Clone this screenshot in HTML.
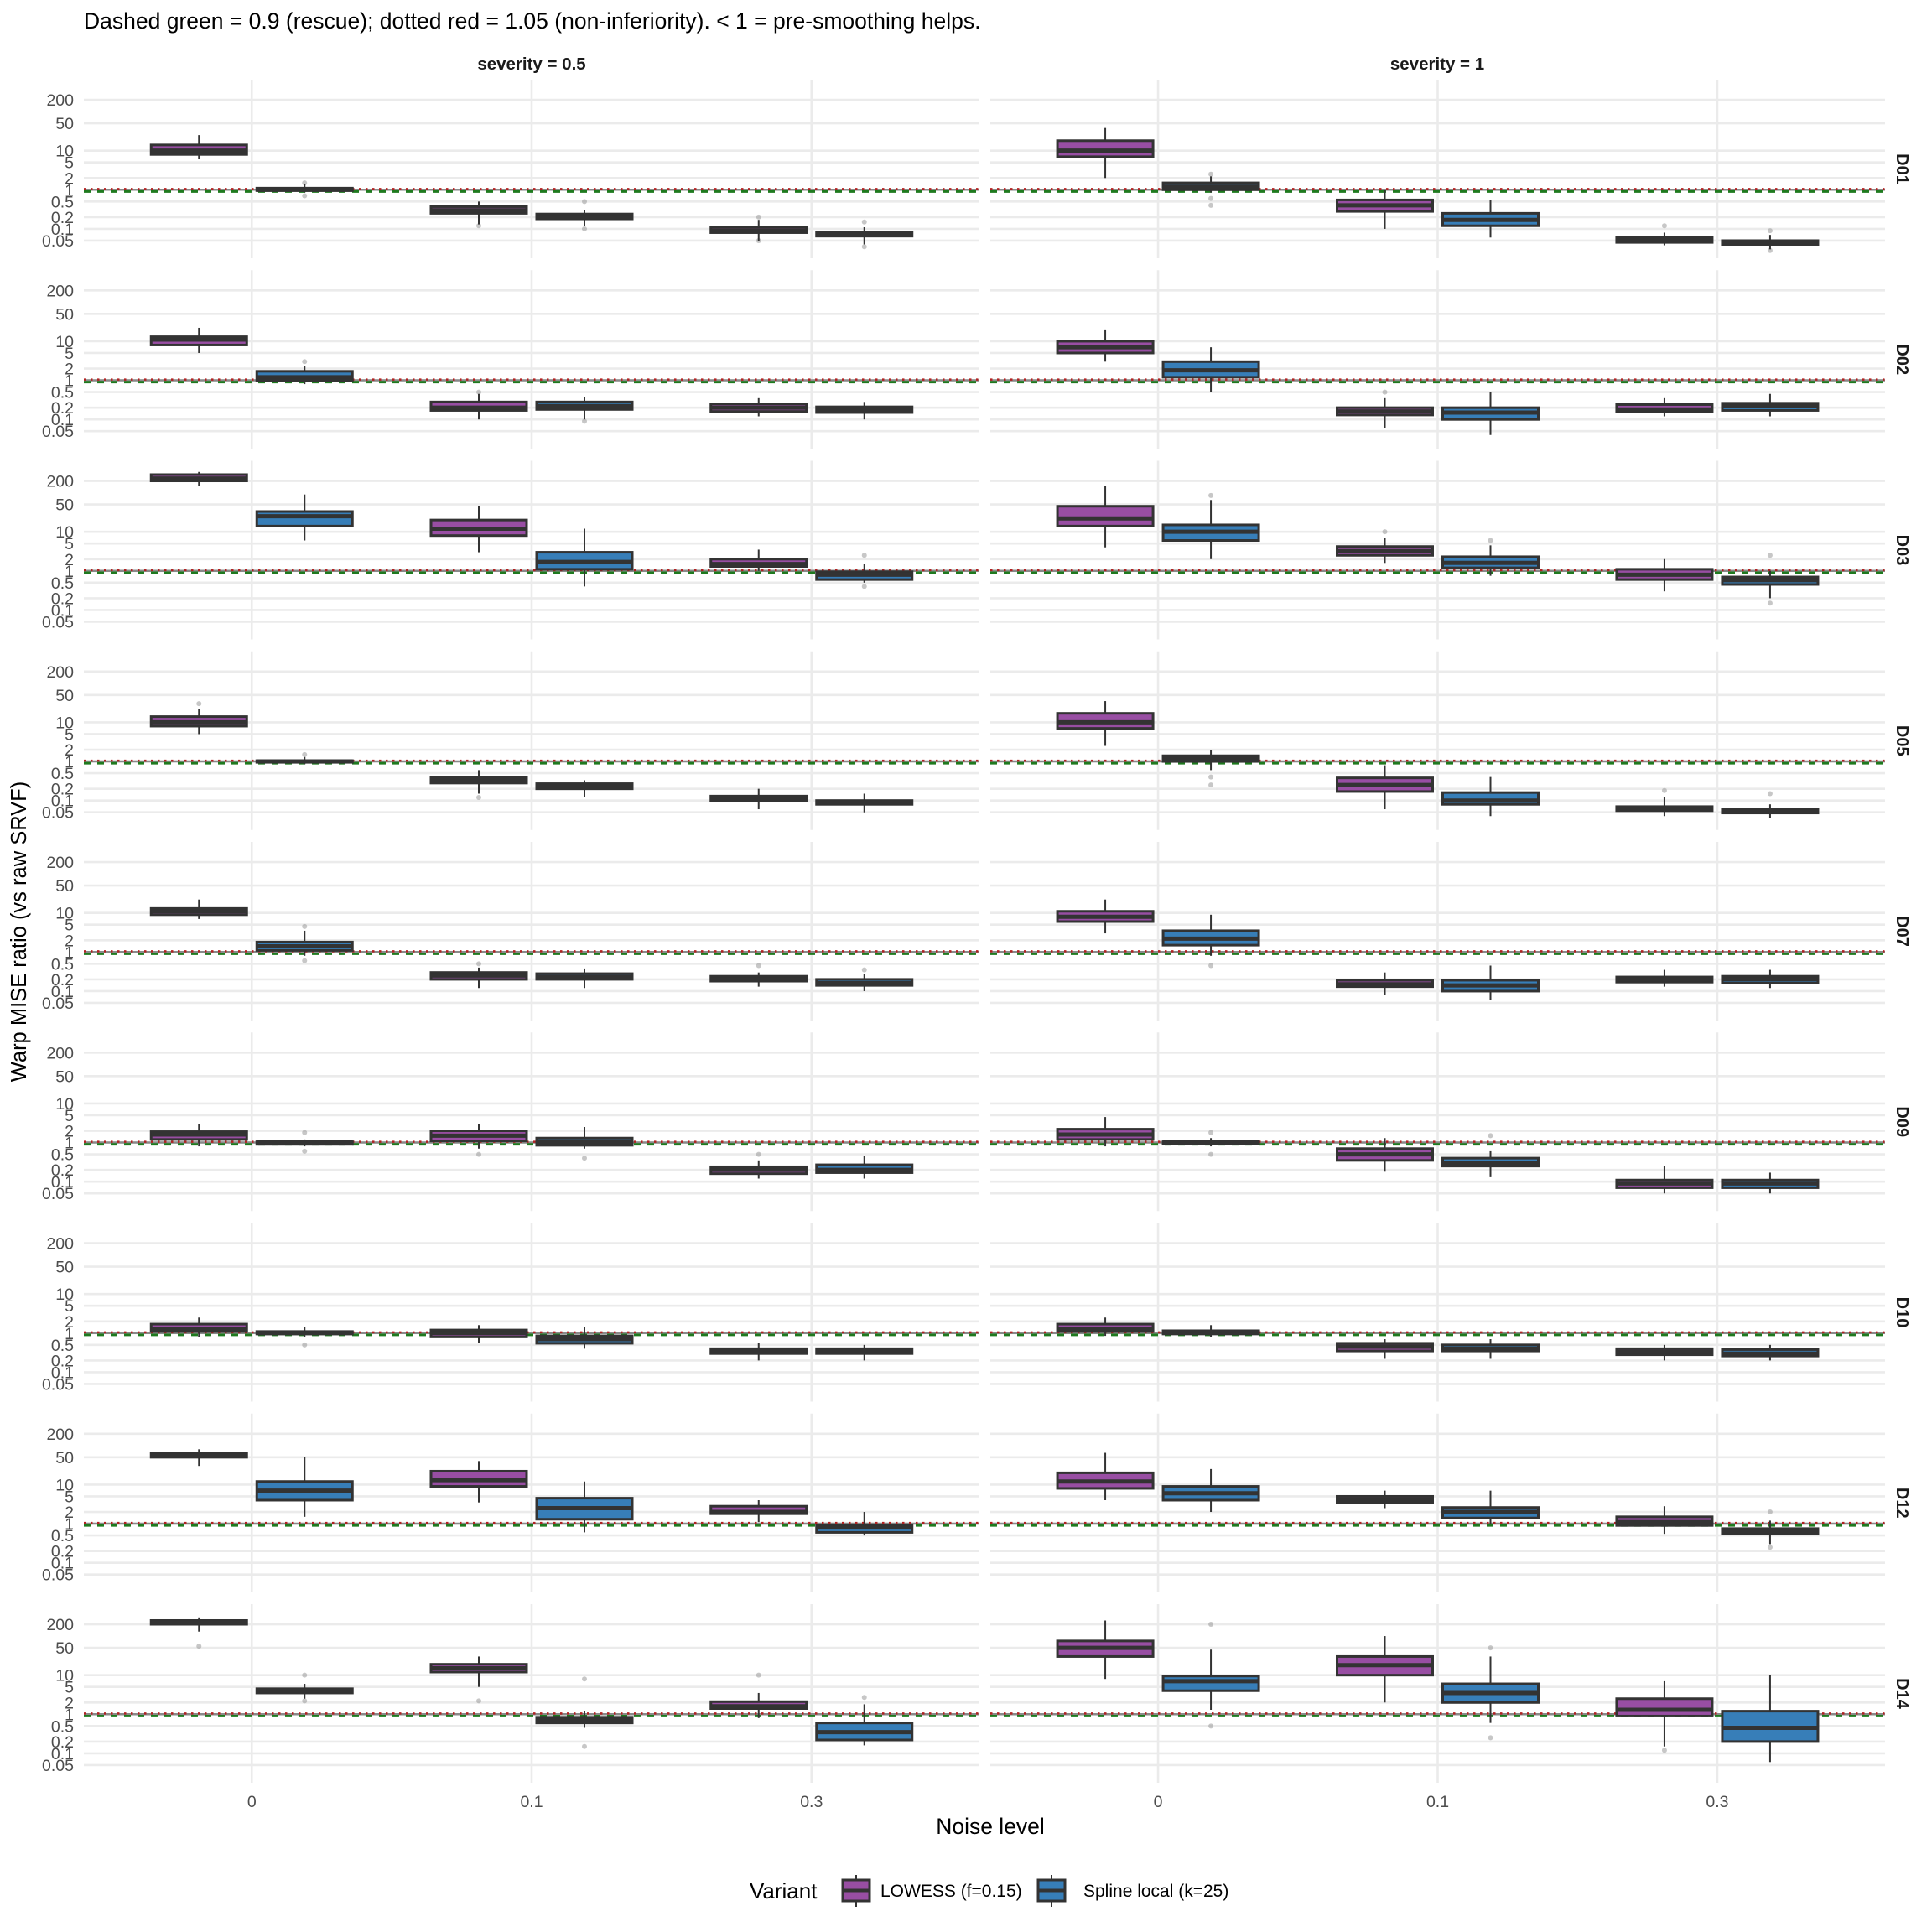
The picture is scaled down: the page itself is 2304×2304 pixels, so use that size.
<!DOCTYPE html>
<html><head><meta charset="utf-8"><style>
html,body{margin:0;padding:0;background:#fff;}
svg{display:block;font-family:"Liberation Sans",sans-serif;}
</style></head><body>
<svg id="s" width="2304" height="2304" xmlns="http://www.w3.org/2000/svg"></svg>
<script>
const S=document.getElementById('s');
let h='';
const P=[[100,1168],[1181,2248]];
const T0=95,PITCH=227.25,PH=213,TOPL=2.816,PPD=46.63;
const ticks=[200,50,10,5,2,1,0.5,0.2,0.1,0.05];
const rows=['D01','D02','D03','D05','D07','D09','D10','D12','D14'];
function Y(r,v){return T0+r*PITCH+(TOPL-Math.log10(v))*PPD;}
const D={
D01:[[[[8,10,14,6,25,[]],[0.95,1.0,1.1,0.85,1.4,[1.5,0.7]]],[[.25,.3,.37,.13,.5,[.12]],[.18,.2,.24,.12,.3,[.5,.1]]],[[.08,.09,.11,.05,.17,[.2,.05]],[.065,.07,.08,.04,.11,[.15,.035]]]],
     [[[7,10,18,2,38,[]],[1.0,1.2,1.5,.85,2.2,[.6,.4,2.5]]],[[.28,.4,.55,.1,1.0,[]],[.12,.17,.25,.06,.55,[]]],[[.045,.05,.06,.038,.08,[.12]],[.04,.045,.05,.03,.07,[.09,.028]]]]],
D02:[[[[8,11,13,5,22,[]],[1.0,1.2,1.7,.8,2.3,[3]]],[[.17,.2,.28,.1,.45,[.5]],[.18,.22,.28,.1,.38,[.09]]],[[.16,.2,.25,.12,.35,[]],[.15,.17,.21,.1,.28,[]]]],
     [[[5,7,10,3,20,[]],[1.2,1.8,3,.5,7,[]]],[[.13,.16,.2,.06,.35,[.5]],[.1,.15,.2,.04,.5,[]]],[[.16,.18,.24,.12,.35,[]],[.17,.22,.26,.12,.45,[]]]]],
D03:[[[[200,230,290,150,340,[]],[14,25,33,6,90,[]]],[[8,12,20,3,45,[]],[1.1,1.7,3,.4,12,[]]],[[1.3,1.5,2,1,3.5,[]],[.6,.8,.95,.5,1.5,[.4,2.5]]]],
     [[[14,22,45,4,150,[]],[6,10,15,2,65,[85]]],[[2.5,3.2,4.2,1.6,7,[10]],[1.2,1.6,2.3,.75,4.5,[6]]],[[.6,.8,1.1,.3,2,[]],[.45,.58,.7,.2,1,[2.5,.15]]]]],
D05:[[[[8,10,14,5,22,[30]],[.95,1.0,1.05,.85,1.3,[1.5]]],[[.28,.33,.4,.15,.6,[.12]],[.2,.24,.27,.12,.33,[]]],[[.1,.12,.13,.06,.2,[]],[.08,.09,.1,.05,.15,[]]]],
     [[[7,10,17,2.5,35,[]],[1.0,1.2,1.4,.6,2,[.4,.25]]],[[.17,.25,.38,.06,.8,[]],[.08,.1,.16,.04,.4,[]]],[[.055,.06,.07,.04,.12,[.18]],[.048,.052,.06,.035,.08,[.15]]]]],
D07:[[[[9,11,13,7,22,[]],[1.1,1.4,1.8,.8,3.5,[4.5,.6]]],[[.2,.25,.3,.12,.4,[.5]],[.2,.23,.28,.12,.38,[]]],[[.18,.2,.24,.13,.3,[.45]],[.14,.16,.2,.1,.27,[.35]]]],
     [[[6,8,11,3,22,[]],[1.5,2.2,3.5,.8,9,[.45]]],[[.13,.15,.19,.08,.3,[]],[.1,.14,.19,.06,.45,[]]],[[.17,.2,.23,.13,.35,[]],[.16,.2,.24,.12,.35,[]]]]],
D09:[[[[1.2,1.6,1.9,.8,3,[]],[.9,1,1.05,.8,1.2,[1.8,.6]]],[[1.1,1.5,2,.7,3,[.5]],[.85,1.0,1.3,.7,2.5,[.4]]],[[.16,.2,.24,.12,.35,[.5]],[.17,.2,.27,.12,.45,[]]]],
     [[[1.2,1.6,2.2,.8,4.5,[]],[.95,1.0,1.05,.8,1.3,[1.8,.5]]],[[.35,.5,.7,.18,1.3,[]],[.25,.3,.4,.13,.6,[1.5]]],[[.07,.09,.11,.05,.25,[]],[.07,.09,.11,.05,.17,[]]]]],
D10:[[[[1.1,1.3,1.7,.8,2.5,[]],[.95,1.0,1.1,.8,1.4,[.5]]],[[.8,1.0,1.2,.55,1.6,[]],[.55,.7,.85,.4,1.4,[]]],[[.3,.35,.4,.2,.55,[]],[.3,.35,.4,.2,.5,[]]]],
     [[[1.1,1.3,1.7,.85,2.5,[]],[.95,1.05,1.15,.8,1.6,[]]],[[.35,.45,.55,.22,.7,[]],[.35,.4,.5,.22,.7,[]]],[[.28,.33,.4,.2,.5,[]],[.26,.3,.38,.2,.5,[]]]]],
D12:[[[[50,55,65,30,80,[]],[4,7,12,1.5,50,[]]],[[9,13,22,3.5,40,[]],[1.3,2.5,4.5,.6,12,[]]],[[1.8,2,2.8,1.1,4,[]],[.6,.8,.9,.5,2,[]]]],
     [[[8,12,20,4,65,[]],[4,6,9,2,25,[]]],[[3.5,4,5,2.5,7,[]],[1.4,2,2.6,1,7,[]]],[[.9,1.1,1.5,.55,2.8,[]],[.55,.65,.75,.3,1.2,[2,.25]]]]],
D14:[[[[200,220,250,130,300,[55]],[3.5,4,4.5,2.5,6,[10,2.2]]],[[12,15,19,5,30,[2.2]],[.6,.7,.8,.45,1.2,[8,.15]]],[[1.4,1.6,2.1,.8,3.5,[10]],[.22,.35,.6,.16,1.8,[2.7]]]],
     [[[30,50,75,8,250,[]],[4,7,9.5,1.3,45,[200,.5]]],[[10,18,30,2,100,[]],[2,3.5,6,.6,30,[50,.25]]],[[.9,1.3,2.5,.15,7,[.12]],[.2,.45,1.2,.06,10,[]]]]]
};
const COL=['#984EA3','#377EB8'];
h+=`<text x="100" y="34" font-size="26.5" fill="#000">Dashed green = 0.9 (rescue); dotted red = 1.05 (non-inferiority). &lt; 1 = pre-smoothing helps.</text>`;
h+=`<text x="634" y="83" font-size="20.5" font-weight="bold" text-anchor="middle" fill="#1a1a1a">severity = 0.5</text>`;
h+=`<text x="1714" y="83" font-size="20.5" font-weight="bold" text-anchor="middle" fill="#1a1a1a">severity = 1</text>`;
rows.forEach((name,r)=>{
  const top=T0+r*PITCH;
  for(let p=0;p<2;p++){
    const [x0,x1]=P[p];const u=(x1-x0)/3.2;
    for(const t of ticks){const y=Y(r,t);h+=`<line x1="${x0}" x2="${x1}" y1="${y}" y2="${y}" stroke="#ebebeb" stroke-width="2.6"/>`;}
    for(let k=0;k<3;k++){const x=x0+(0.6+k)*u;h+=`<line x1="${x}" x2="${x}" y1="${top}" y2="${top+PH}" stroke="#ebebeb" stroke-width="2.6"/>`;}
    const y1=Y(r,1),yr=Y(r,1.05),yg=Y(r,0.9);
    h+=`<line x1="${x0}" x2="${x1}" y1="${y1}" y2="${y1}" stroke="#8a8a8a" stroke-width="2.5"/>`;
    h+=`<line x1="${x0}" x2="${x1}" y1="${yr}" y2="${yr}" stroke="#b22222" stroke-width="2.5" stroke-dasharray="2.5 5.5"/>`;
    h+=`<line x1="${x0}" x2="${x1}" y1="${yg}" y2="${yg}" stroke="#1f7a1f" stroke-width="2.8" stroke-dasharray="8 8"/>`;
    for(let k=0;k<3;k++){
      const xc=x0+(0.6+k)*u;
      for(let v=0;v<2;v++){
        const d=D[name][p][k][v];const cx=xc+(v?63:-63);
        const [q1,md,q3,wl,wh,out]=d;
        for(const o of out){h+=`<circle cx="${cx}" cy="${Y(r,o)}" r="3" fill="#999" fill-opacity="0.55"/>`;}
        h+=`<line x1="${cx}" x2="${cx}" y1="${Y(r,wh)}" y2="${Y(r,q3)}" stroke="#333" stroke-width="2"/>`;
        h+=`<line x1="${cx}" x2="${cx}" y1="${Y(r,q1)}" y2="${Y(r,wl)}" stroke="#333" stroke-width="2"/>`;
        const yt=Y(r,q3),yb=Y(r,q1);
        h+=`<rect x="${cx-57}" y="${yt}" width="114" height="${Math.max(yb-yt,1)}" fill="${COL[v]}" stroke="#333" stroke-width="3"/>`;
        h+=`<line x1="${cx-57}" x2="${cx+57}" y1="${Y(r,md)}" y2="${Y(r,md)}" stroke="#333" stroke-width="5"/>`;
      }
    }
  }
  for(const t of ticks){h+=`<text x="88" y="${Y(r,t)+7}" font-size="19.5" text-anchor="end" fill="#4d4d4d">${t}</text>`;}
  const cy=top+PH/2;
  h+=`<text transform="translate(2262 ${cy}) rotate(90)" font-size="20" font-weight="bold" text-anchor="middle" fill="#1a1a1a">${name}</text>`;
});
for(let p=0;p<2;p++){const [x0,x1]=P[p];const u=(x1-x0)/3.2;['0','0.1','0.3'].forEach((l,k)=>{h+=`<text x="${x0+(0.6+k)*u}" y="2155" font-size="19.5" text-anchor="middle" fill="#4d4d4d">${l}</text>`;});}
h+=`<text x="1181" y="2187" font-size="26.5" text-anchor="middle" fill="#000">Noise level</text>`;
h+=`<text transform="translate(31 1111) rotate(-90)" font-size="25.5" text-anchor="middle" fill="#000">Warp MISE ratio (vs raw SRVF)</text>`;
h+=`<text x="894" y="2264" font-size="26" fill="#000">Variant</text>`;
[[1003,'LOWESS (f=0.15)',1050,0],[1236,'Spline local (k=25)',1292,1]].forEach(([kx,l,lx,v])=>{
  h+=`<line x1="${kx+18}" x2="${kx+18}" y1="2236" y2="2274" stroke="#333" stroke-width="2"/>`;
  h+=`<rect x="${kx+2}" y="2242" width="32" height="25" fill="${COL[v]}" stroke="#333" stroke-width="3"/>`;
  h+=`<line x1="${kx+2}" x2="${kx+34}" y1="2254.5" y2="2254.5" stroke="#333" stroke-width="4"/>`;
  h+=`<text x="${lx}" y="2262" font-size="21" fill="#000">${l}</text>`;
});
S.innerHTML=h;
</script>
</body></html>
